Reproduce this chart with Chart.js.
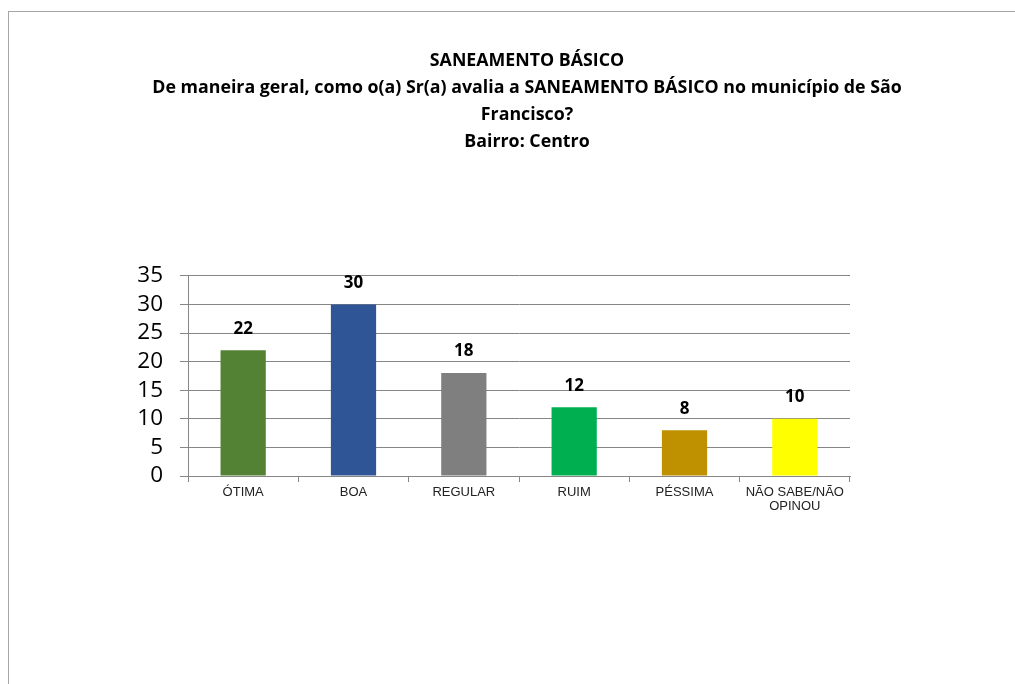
<!DOCTYPE html>
<html>
<head>
<meta charset="utf-8">
<script src="https://cdn.jsdelivr.net/npm/chart.js@4.4.0/dist/chart.umd.min.js"></script>
<style>
  html, body { margin: 0; padding: 0; background: #fff; }
  #frame {
    position: absolute; left: 8px; top: 11px;
    width: 1006px; height: 672px;
    border-top: 1px solid #a6a6a6; border-left: 1px solid #a6a6a6;
  }
  #grafico { display: block; }
</style>
</head>
<body>
<div id="frame"><canvas id="grafico" width="1006" height="672"></canvas></div>
<script>
const categorias = ['ÓTIMA', 'BOA', 'REGULAR', 'RUIM', 'PÉSSIMA', ['NÃO SABE/NÃO', 'OPINOU']];
const valores = [22, 30, 18, 12, 8, 10];
const cores = ['#548235', '#2f5597', '#7f7f7f', '#00b050', '#bf9000', '#ffff00'];
const titulo = [
    'SANEAMENTO BÁSICO',
    'De maneira geral, como o(a) Sr(a) avalia a SANEAMENTO BÁSICO no município de São',
    'Francisco?',
    'Bairro: Centro'
];
const ticksY = [0, 5, 10, 15, 20, 25, 30, 35];

// escreve o valor em cima de cada barra
const rotulos = {
    id: 'rotulos',
    afterDatasetsDraw(chart) {
        const ctx = chart.ctx;
        const meta = chart.getDatasetMeta(0);
        ctx.save();
        ctx.font = 'bold 17px "Open Sans"';
        ctx.fillStyle = '#000';
        ctx.textAlign = 'center';
        ctx.textBaseline = 'bottom';
        meta.data.forEach((bar, i) => {
            ctx.fillText(valores[i], bar.x, bar.y - 13);
        });
        ctx.restore();
    }
};

const ctx = document.getElementById('grafico').getContext('2d');
const grafico = new Chart(ctx, {
    type: 'bar',
    data: {
        labels: categorias,
        datasets: [{
            data: valores,
            backgroundColor: cores,
            borderWidth: 0,
            categoryPercentage: 1,
            barPercentage: 0.41
        }]
    },
    options: {
        responsive: false,
        animation: false,
        layout: {
            padding: { left: 30, right: 0, top: 0, bottom: 148 }
        },
        scales: {
            y: {
                min: 0,
                max: 35,
                afterBuildTicks: s => { s.ticks = ticksY.map(v => ({ value: v })); },
                afterFit: s => { s.width = 149; },
                grid: { color: '#868686', tickLength: 8 },
                border: { display: true, color: '#868686' },
                ticks: {
                    autoSkip: false,
                    color: '#000',
                    padding: 17,
                    font: { family: 'Open Sans', size: 22.5 }
                }
            },
            // eixo vazio so para reservar o espaco da direita
            margem: {
                position: 'right',
                display: true,
                afterFit: s => { s.width = 165; },
                grid: { display: false },
                border: { display: false },
                ticks: { display: false }
            },
            x: {
                afterFit: s => { s.height = 60; },
                grid: { drawOnChartArea: false, offset: true, tickLength: 6, color: '#868686' },
                border: { display: true, color: '#868686' },
                ticks: {
                    color: '#222',
                    padding: 3,
                    maxRotation: 0,
                    font: { family: 'Liberation Sans', size: 13, lineHeight: 1.1 }
                }
            }
        },
        plugins: {
            legend: { display: false },
            tooltip: { enabled: false },
            title: {
                display: true,
                text: titulo,
                color: '#000',
                font: { family: 'Open Sans', size: 17.8, weight: 'bold', lineHeight: 1.5 },
                padding: { top: 36, bottom: 121 }
            }
        }
    },
    plugins: [rotulos]
});
</script>
</body>
</html>
